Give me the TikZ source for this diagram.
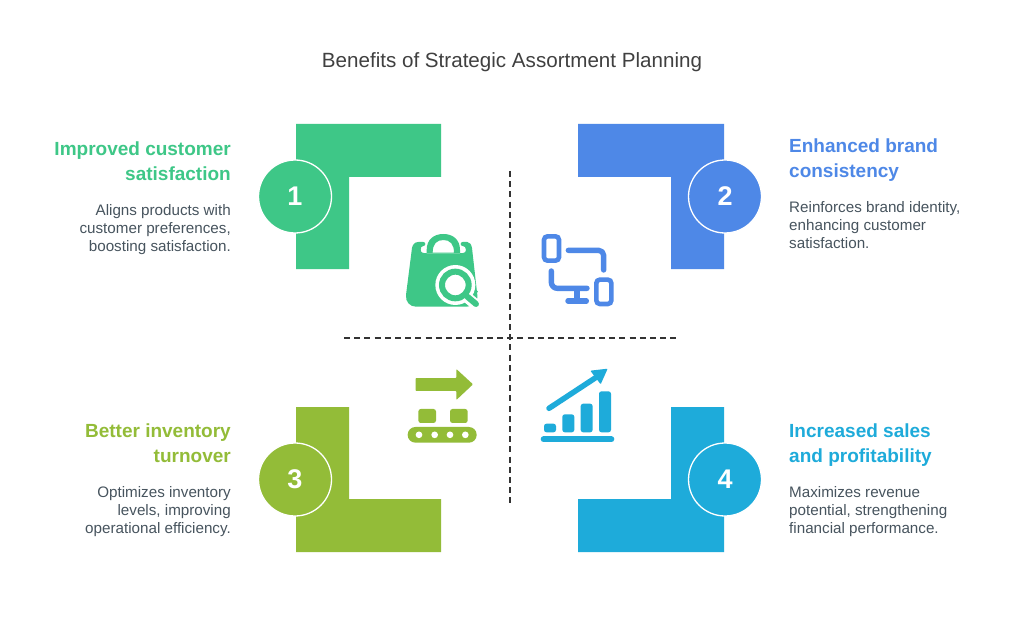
\documentclass[tikz,border=0pt]{standalone}
\usepackage{fontspec}
\setmainfont{Liberation Sans}
\definecolor{cgreen}{HTML}{3EC787}
\definecolor{cblue}{HTML}{4E88E7}
\definecolor{colive}{HTML}{93BC38}
\definecolor{ccyan}{HTML}{1EABDA}
\definecolor{ctext}{HTML}{47545E}
\tikzset{
 badge/.style={circle,minimum size=73pt,inner sep=0pt,draw=white,line width=1.3pt,text=white,font=\fontsize{27}{30}\selectfont\bfseries},
 headline/.style={inner sep=0pt,font=\fontsize{19}{24.5}\selectfont\bfseries},
 bodytext/.style={inner sep=0pt,text=ctext,font=\fontsize{15.2}{18}\selectfont},
 axisline/.style={draw=black!80,line width=1.3pt,dash pattern=on 6pt off 4.2pt},
 iconarea/.style={x=0.3333pt,y=-0.3333pt},
 rl/.style={line cap=round,line join=round}
}
\begin{document}
\begin{tikzpicture}[x=1pt,y=-1pt]
\useasboundingbox (0,0) rectangle (1024,628);
\fill[white] (0,0) rectangle (1024,628);
\node[inner sep=0pt,text=black!75,font=\fontsize{20.6}{24}\selectfont] (title) at (512,62) {Benefits of Strategic Assortment Planning};

% corner shapes
\fill[cgreen] (296,124) -- (441,124) -- (441,177) -- (349,177) -- (349,269) -- (296,269) -- cycle;
\fill[cblue] (578,124) -- (724,124) -- (724,269) -- (671,269) -- (671,177) -- (578,177) -- cycle;
\fill[colive] (296,407) -- (349,407) -- (349,499) -- (441,499) -- (441,552) -- (296,552) -- cycle;
\fill[ccyan] (671,407) -- (724,407) -- (724,552) -- (578,552) -- (578,499) -- (671,499) -- cycle;

% badges
\node[badge,fill=cgreen] (b1) at (295,196.5) {1};
\node[badge,fill=cblue] (b2) at (725,196.5) {2};
\node[badge,fill=colive] (b3) at (295,479.5) {3};
\node[badge,fill=ccyan] (b4) at (725,479.5) {4};

% axes
\coordinate (vt) at (510,171);
\coordinate (vb) at (510,504);
\coordinate (hl) at (344,338);
\coordinate (hr) at (676,338);
\draw[axisline] (vt) -- (vb);
\draw[axisline] (hl) -- (hr);

% texts
\node[headline,text=cgreen,anchor=north east,align=right] (h1) at (231,142) {Improved customer\\satisfaction};
\node[bodytext,anchor=north east,align=right] (t1) at (231,204.5) {Aligns products with\\customer preferences,\\boosting satisfaction.};
\node[headline,text=cblue,anchor=north west,align=left] (h2) at (789,139) {Enhanced brand\\consistency};
\node[bodytext,anchor=north west,align=left] (t2) at (789,201.5) {Reinforces brand identity,\\enhancing customer\\satisfaction.};
\node[headline,text=colive,anchor=north east,align=right] (h3) at (231,424) {Better inventory\\turnover};
\node[bodytext,anchor=north east,align=right] (t3) at (231,486.5) {Optimizes inventory\\levels, improving\\operational efficiency.};
\node[headline,text=ccyan,anchor=north west,align=left] (h4) at (789,424) {Increased sales\\and profitability};
\node[bodytext,anchor=north west,align=left] (t4) at (789,486.5) {Maximizes revenue\\potential, strengthening\\financial performance.};

% icon 1: bag with lens
\begin{scope}[shift={(390,220)},iconarea]
\fill[cgreen,even odd rule] (110,90) .. controls (110,58) and (132,42) .. (160,42) .. controls (188,42) and (210,58) .. (210,90) -- (210,100) -- (110,100) -- cycle
  (128,98) .. controls (128,72) and (140,60) .. (160,60) .. controls (180,60) and (192,72) .. (192,98) -- cycle;
\fill[cgreen] (85,66) -- (100,66) .. controls (108,66) and (108,78) .. (100,78) .. controls (94,78) and (92,82) .. (92,90) .. controls (92,100) and (104,100) .. (112,100) -- (208,100) .. controls (216,100) and (228,100) .. (228,90) .. controls (228,82) and (224,78) .. (218,78) .. controls (210,78) and (210,66) .. (218,66) -- (232,66) .. controls (240,66) and (244,74) .. (246,84) -- (262,225) .. controls (264,248) and (248,260) .. (230,260) -- (78,260) .. controls (60,260) and (46,246) .. (48,225) -- (66,84) .. controls (68,74) and (74,66) .. (85,66) -- cycle;
\fill[white] (196,195) circle (60);
\draw[white,line width=11pt,line cap=round] (235,235) -- (262,258);
\fill[white] (250,262) rectangle (275,275);
\draw[cgreen,line width=6pt] (196,195) circle (40);
\draw[cgreen,line width=6pt,line cap=round] (232,230) -- (258,252);
\fill[cgreen] (260,215) circle (4);
\end{scope}

% icon 2: devices
\begin{scope}[shift={(525,220)},iconarea]
\draw[cblue,line width=4.6pt,rounded corners=3.5pt] (57,49) rectangle (102,122);
\draw[cblue,line width=4.6pt,rounded corners=3.5pt] (214,179) rectangle (259,252);
\draw[cblue,line width=5.4pt,rl,rounded corners=5pt] (130,91) -- (236,91) -- (236,150);
\draw[cblue,line width=5.4pt,rl,rounded corners=6pt] (79,153) -- (79,205) -- (186,205);
\draw[cblue,line width=5.4pt] (156,205) -- (156,243);
\draw[cblue,line width=5.4pt,rl] (129,243) -- (184,243);
\end{scope}

% icon 3: conveyor
\begin{scope}[shift={(390,355)},iconarea]
\fill[colive,rounded corners=0.8pt] (77,69) -- (199,69) -- (199,42) -- (249,88) -- (199,135) -- (199,108) -- (77,108) -- cycle;
\fill[colive,rounded corners=2.5pt] (85,162) rectangle (138,204);
\fill[colive,rounded corners=2.5pt] (180,162) rectangle (233,204);
\fill[colive,rounded corners=7.7pt] (53,216) rectangle (260,263);
\foreach \xx in {87,134,180,226} \fill[white] (\xx,239.5) circle (10);
\end{scope}

% icon 4: chart
\begin{scope}[shift={(525,355)},iconarea]
\fill[ccyan,rounded corners=2.5pt] (57,206) rectangle (93,232);
\fill[ccyan,rounded corners=2.5pt] (112,178) rectangle (148,232);
\fill[ccyan,rounded corners=2.5pt] (167,146) rectangle (203,232);
\fill[ccyan,rounded corners=2.5pt] (222,109) rectangle (258,232);
\draw[ccyan,line width=6pt,line cap=round] (56,253) -- (259,253);
\draw[ccyan,line width=5.5pt,line cap=round] (72,160) -- (215,66);
\fill[ccyan,rounded corners=0.8pt] (196,47) -- (248,41) -- (227,88) -- cycle;
\end{scope}
\end{tikzpicture}
\end{document}
